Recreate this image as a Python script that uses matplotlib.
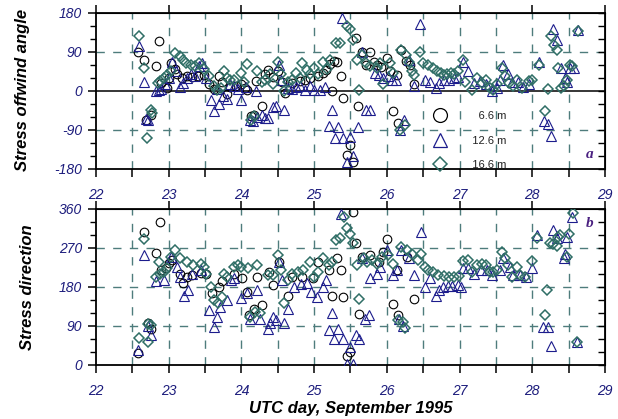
import matplotlib
matplotlib.use("Agg")
import matplotlib.pyplot as plt
from matplotlib.lines import Line2D

plt.rcParams['font.family'] = ['Liberation Sans', 'DejaVu Sans']
plt.rcParams['axes.unicode_minus'] = False

# ---- panel a: stress offwind angle (deg) ----
a_day_66 = [22.58, 22.66, 22.69, 22.75, 22.83, 22.87, 22.90, 22.97, 23.00, 23.03, 23.08, 23.12,
            23.18, 23.25, 23.32, 23.40, 23.48, 23.55, 23.62, 23.69, 23.74, 23.80, 23.85, 23.92,
            23.99, 24.05, 24.08, 24.13, 24.18, 24.20, 24.29, 24.33, 24.36, 24.43, 24.50, 24.56,
            24.60, 24.70, 24.80, 24.88, 24.95, 25.05, 25.12, 25.17, 25.22, 25.24, 25.27, 25.31,
            25.37, 25.40, 25.45, 25.50, 25.54, 25.58, 25.61, 25.66, 25.72, 25.77, 25.82, 25.87,
            25.92, 26.00, 26.04, 26.08, 26.14, 26.16, 26.20, 26.27, 26.32, 26.38]
a_val_66 = [90, 72, -66, -56, 57, 116, 18, 8, 30, 65, 50, 40,
            30, 34, 32, 34, 38, 15, 5, 34, 20, -8, 10, 11,
            15, 8, 3, -58, -55, 22, -35, 40, 48, 32, 45, 20,
            -4, 18, 22, 26, 30, 35, 42, 49, 62, 0, 70, 68,
            35, -16, -147, -124, -165, 122, -34, 89, 60, 91, 68, 61,
            55, 76, 45, -47, 38, -74, 95, 70, 61, 15]

a_day_126 = [22.585, 22.66, 22.69, 22.72, 22.82, 22.86, 22.90, 22.95, 23.00, 23.05, 23.10, 23.15,
             23.20, 23.25, 23.30, 23.36, 23.42, 23.46, 23.52, 23.58, 23.62, 23.66, 23.69, 23.75,
             23.80, 23.85, 23.90, 23.95, 23.99, 24.06, 24.12, 24.16, 24.20, 24.22, 24.28, 24.32,
             24.36, 24.43, 24.47, 24.52, 24.55, 24.59, 24.64, 24.70, 24.75, 24.80, 24.88, 24.95,
             25.00, 25.08, 25.15, 25.20, 25.24, 25.29, 25.33, 25.38, 25.40, 25.45, 25.50, 25.54,
             25.61, 25.66, 25.72, 25.77, 25.84, 25.89, 25.95, 26.02, 26.07, 26.12, 26.18, 26.24,
             26.30, 26.38, 26.46, 26.53, 26.60, 26.67, 26.72, 26.78, 26.85, 26.92, 26.98, 27.05,
             27.12, 27.20, 27.28, 27.36, 27.44, 27.51, 27.56, 27.60, 27.66, 27.72, 27.80, 27.87,
             27.95, 28.09, 28.16, 28.21, 28.26, 28.29, 28.34, 28.39, 28.45, 28.48, 28.52, 28.57, 28.63]
a_val_126 = [103, 20, -65, -68, 0, 2, 5, 15, 30, 68, 45, 10,
             18, 30, 40, 35, 57, 65, 30, -20, -47, 4, -31, -12,
             -18, 15, 12, 5, -20, 10, -66, -70, 0, -61, -55, -62,
             -62, -37, -35, 60, 26, -43, 8, 5, 10, 12, 3, 11,
             3, 3, 10, -81, -43, -108, -84, 168, -108, -165, -107, -149,
             -84, 91, -43, -43, 42, 38, 30, 35, 26, 26, -91, -66,
             72, 11, 155, 26, 20, 7, 18, 26, 26, 30, 32, 68,
             45, 18, 22, 15, 1, 8, 26, 61, 40, 20, 20, 10,
             15, 68, -70, -76, -105, 142, 118, 53, 30, 20, 53, 53, 140]

a_day_166 = [22.585, 22.66, 22.70, 22.75, 22.77, 22.85, 22.88, 22.93, 22.98, 23.03, 23.08, 23.15,
             23.20, 23.24, 23.30, 23.36, 23.42, 23.48, 23.55, 23.62, 23.67, 23.72, 23.76, 23.80,
             23.85, 23.90, 23.99, 24.04, 24.08, 24.13, 24.17, 24.22, 24.28, 24.33, 24.40, 24.44,
             24.50, 24.54, 24.59, 24.64, 24.70, 24.75, 24.80, 24.84, 24.90, 24.95, 25.00, 25.06,
             25.12, 25.18, 25.22, 25.30, 25.36, 25.45, 25.50, 25.54, 25.59, 25.62, 25.66, 25.72,
             25.77, 25.86, 25.91, 25.95, 26.04, 26.08, 26.18, 26.20, 26.25, 26.27, 26.30, 26.35,
             26.37, 26.46, 26.50, 26.56, 26.64, 26.69, 26.74, 26.79, 26.83, 26.88, 26.93, 26.98,
             27.05, 27.08, 27.17, 27.24, 27.31, 27.36, 27.42, 27.46, 27.51, 27.58, 27.63, 27.68,
             27.74, 27.79, 27.86, 27.95, 28.00, 28.09, 28.18, 28.21, 28.26, 28.30, 28.34, 28.36,
             28.40, 28.43, 28.48, 28.52, 28.55, 28.63]
a_val_166 = [128, 53, -108, -45, -50, 18, 24, 30, 38, 45, 88, 80,
             72, 65, 60, 57, 65, 50, 34, 11, 3, 8, 45, 30,
             26, 26, 41, 20, 63, -66, -58, 46, 20, 26, 40, 15,
             66, 40, 0, 20, 25, 41, 30, 65, 49, 40, 53, 40,
             68, 50, 71, 111, 111, 149, 143, 118, 72, 2, 84, 65,
             57, 53, 65, 15, 65, 42, -90, 95, -78, 84, 68, 45,
             38, 91, 65, 60, 53, 45, 42, 38, 40, 42, 40, 45,
             72, 20, 3, 30, 18, 26, 7, 3, 15, 53, 34, 18,
             11, 26, 7, 22, 26, 61, -47, 5, 126, 105, 95, 53,
             7, 12, 26, 61, 57, 138]

# ---- panel b: stress direction (deg) ----
b_day_66 = [22.58, 22.66, 22.71, 22.75, 22.82, 22.88, 22.90, 22.96, 23.00, 23.05, 23.16, 23.20,
            23.25, 23.32, 23.44, 23.51, 23.60, 23.69, 23.74, 23.90, 24.01, 24.08, 24.10, 24.17,
            24.21, 24.29, 24.38, 24.43, 24.52, 24.64, 24.70, 24.84, 24.98, 25.05, 25.20, 25.24,
            25.31, 25.37, 25.40, 25.45, 25.50, 25.54, 25.58, 25.62, 25.66, 25.77, 25.89, 25.95,
            26.00, 26.08, 26.14, 26.16, 26.28, 26.37]
b_val_66 = [28, 308, 97, 82, 259, 329, 219, 223, 236, 242, 211, 190,
            203, 207, 213, 211, 165, 180, 194, 211, 200, 169, 115, 130,
            202, 138, 215, 184, 238, 159, 203, 202, 200, 238, 219, 159,
            246, 220, 157, 21, 30, 354, 282, 117, 250, 254, 238, 261,
            290, 140, 220, 115, 250, 153]

b_day_126 = [22.58, 22.66, 22.72, 22.75, 22.82, 22.93, 23.03, 23.12, 23.16, 23.21, 23.26, 23.32,
             23.44, 23.55, 23.62, 23.66, 23.70, 23.80, 23.86, 23.90, 23.99, 24.08, 24.12, 24.22,
             24.26, 24.36, 24.40, 24.43, 24.47, 24.52, 24.56, 24.59, 24.64, 24.73, 24.82, 24.90,
             24.96, 25.04, 25.12, 25.17, 25.20, 25.24, 25.28, 25.33, 25.37, 25.40, 25.45, 25.50,
             25.54, 25.58, 25.62, 25.66, 25.70, 25.75, 25.77, 25.86, 25.91, 26.00, 26.09, 26.14,
             26.17, 26.20, 26.22, 26.30, 26.37, 26.47, 26.53, 26.60, 26.67, 26.72, 26.77, 26.84,
             26.90, 26.98, 27.02, 27.05, 27.12, 27.20, 27.30, 27.38, 27.45, 27.55, 27.60, 27.69,
             27.74, 27.83, 27.92, 28.00, 28.07, 28.15, 28.21, 28.26, 28.29, 28.34, 28.43, 28.45,
             28.48, 28.55, 28.61]
b_val_126 = [35, 254, 90, 70, 194, 196, 250, 227, 202, 159, 174, 210,
             219, 126, 88, 111, 134, 150, 196, 200, 155, 165, 105, 173,
             107, 84, 96, 111, 103, 238, 196, 97, 130, 180, 188, 190,
             169, 157, 180, 196, 80, 119, 61, 84, 348, 61, 3, 42,
             3, 70, 61, 246, 107, 115, 200, 211, 227, 265, 207, 219,
             107, 265, 89, 246, 207, 308, 180, 200, 159, 174, 180, 182,
             182, 184, 180, 223, 223, 211, 219, 219, 207, 219, 246, 227,
             207, 207, 203, 223, 300, 88, 88, 43, 311, 292, 246, 257,
             296, 342, 53]

b_day_166 = [22.585, 22.66, 22.71, 22.72, 22.76, 22.82, 22.86, 22.88, 22.93, 22.98, 23.03, 23.09,
             23.16, 23.25, 23.34, 23.44, 23.48, 23.51, 23.58, 23.62, 23.68, 23.73, 23.76, 23.80,
             23.90, 23.95, 23.99, 24.09, 24.12, 24.19, 24.22, 24.26, 24.36, 24.43, 24.50, 24.54,
             24.59, 24.64, 24.70, 24.78, 24.85, 24.94, 25.00, 25.06, 25.12, 25.20, 25.24, 25.30,
             25.36, 25.41, 25.45, 25.50, 25.54, 25.59, 25.62, 25.68, 25.73, 25.79, 25.86, 25.93,
             26.02, 26.09, 26.16, 26.20, 26.22, 26.25, 26.28, 26.34, 26.43, 26.47, 26.53, 26.57,
             26.64, 26.71, 26.78, 26.85, 26.92, 26.99, 27.05, 27.12, 27.17, 27.24, 27.31, 27.36,
             27.42, 27.46, 27.51, 27.58, 27.63, 27.67, 27.72, 27.79, 27.83, 27.90, 28.00, 28.07,
             28.18, 28.20, 28.25, 28.29, 28.34, 28.36, 28.38, 28.48, 28.51, 28.56, 28.61]
b_val_166 = [63, 290, 53, 95, 92, 202, 238, 211, 215, 223, 250, 265,
             246, 238, 230, 234, 227, 211, 180, 150, 142, 157, 211, 202,
             227, 230, 227, 223, 111, 122, 230, 119, 207, 207, 254, 219,
             142, 196, 211, 215, 219, 238, 203, 215, 246, 230, 238, 288,
             292, 342, 315, 302, 282, 230, 153, 246, 238, 242, 234, 250,
             254, 234, 103, 273, 99, 86, 265, 256, 242, 256, 227, 219,
             215, 207, 205, 202, 202, 205, 240, 242, 215, 230, 234, 230,
             215, 215, 219, 261, 246, 230, 203, 227, 207, 203, 240, 294,
             115, 173, 282, 279, 274, 296, 300, 250, 302, 350, 53]

heights = ['6.6 m', '12.6 m', '16.6 m']
day_ticks = [22, 23, 24, 25, 26, 27, 28, 29]

c_66 = 'black'
c_126 = '#1c1c8c'
c_166 = '#2f6e66'
navy = '#1c1c7c'
grid_c = '#4e7c7c'

fig = plt.figure(figsize=(6.18, 4.19), dpi=100)
ax1 = fig.add_axes([0.1553, 0.5967, 0.8236, 0.3723])
ax2 = fig.add_axes([0.1553, 0.1289, 0.8236, 0.3723])


def style_axis(ax, ymin, ymax, yticks, hlines):
    ax.set_xlim(22, 29)
    ax.set_ylim(ymin, ymax)
    for sp in ax.spines.values():
        sp.set_linewidth(1.3)
    # dashed grid every half day
    for d in [22.5 + 0.5 * i for i in range(13)]:
        ax.axvline(d, color=grid_c, ls=(0, (6, 6)), lw=1.0, zorder=0)
    for h in hlines:
        ax.axhline(h, color=grid_c, ls=(0, (6, 6)), lw=1.0, zorder=0)
    ax.set_xticks(day_ticks)
    ax.set_xticks([22.5 + i for i in range(7)], minor=True)
    ax.set_yticks(yticks)
    ax.set_yticks(range(ymin, ymax + 1, 30), minor=True)
    ax.tick_params(axis='both', which='major', direction='out', length=6, width=1.1,
                   labelsize=10, labelcolor=navy, top=False, right=False)
    ax.tick_params(axis='y', which='minor', direction='out', length=4, width=1.0, right=False)
    ax.tick_params(axis='x', which='minor', direction='out', length=6, width=1.1, top=False)
    ax.tick_params(axis='x', which='major', pad=8)
    ax.tick_params(axis='y', which='major', pad=4)
    for lab in ax.get_xticklabels() + ax.get_yticklabels():
        lab.set_fontstyle('italic')
    top = ax.secondary_xaxis('top')
    top.set_xticks(day_ticks, labels=[])
    top.tick_params(direction='out', length=6, width=1.1)
    right = ax.secondary_yaxis('right')
    right.set_yticks(yticks, labels=[])
    right.set_yticks(range(ymin, ymax + 1, 30), minor=True)
    right.tick_params(which='both', direction='in', length=5, width=1.0)


def draw(ax, d66, v66, d126, v126, d166, v166):
    ax.plot(d66, v66, 'o', ms=6.2, mfc='none', mec=c_66, mew=0.8, zorder=3)
    ax.plot(d126, v126, '^', ms=6.8, mfc='none', mec=c_126, mew=0.8, zorder=3)
    ax.plot(d166, v166, 'D', ms=5.2, mfc='none', mec=c_166, mew=1.1, zorder=3)


style_axis(ax1, -180, 180, [-180, -90, 0, 90, 180], [90, -90])
ax1.axhline(0, color='black', lw=1.1, zorder=1)
draw(ax1, a_day_66, a_val_66, a_day_126, a_val_126, a_day_166, a_val_166)

style_axis(ax2, 0, 360, [0, 90, 180, 270, 360], [90, 180, 270])
draw(ax2, b_day_66, b_val_66, b_day_126, b_val_126, b_day_166, b_val_166)

handles = [
    Line2D([], [], ls='none', marker='o', ms=10, mfc='none', mec=c_66, mew=0.9),
    Line2D([], [], ls='none', marker='^', ms=10.5, mfc='none', mec=c_126, mew=0.9),
    Line2D([], [], ls='none', marker='D', ms=7, mfc='none', mec=c_166, mew=1.1),
]
labels = ['    ' + heights[0], '  ' + heights[1], '  ' + heights[2]]
leg = ax1.legend(handles, labels, loc='lower left', bbox_to_anchor=(0.645, -0.035),
                 frameon=False, fontsize=8, labelspacing=1.3, handletextpad=1.4,
                 borderaxespad=0)
for t in leg.get_texts():
    t.set_color('#222222')

ax1.text(0.969, 0.09, 'a', transform=ax1.transAxes, ha='center', va='center',
         fontsize=11, fontweight='bold', fontstyle='italic', color='#4a2080',
         family='Liberation Serif')
ax2.text(0.969, 0.91, 'b', transform=ax2.transAxes, ha='center', va='center',
         fontsize=11, fontweight='bold', fontstyle='italic', color='#4a2080',
         family='Liberation Serif')

fig.text(0.037, 0.785, 'Stress offwind angle', rotation=90, ha='center', va='center',
         fontsize=12, fontweight='bold', fontstyle='italic')
fig.text(0.045, 0.315, 'Stress direction', rotation=90, ha='center', va='center',
         fontsize=12, fontweight='bold', fontstyle='italic')
fig.text(0.567, 0.026, 'UTC day, September 1995', ha='center', va='center',
         fontsize=12, fontweight='bold', fontstyle='italic')

fig.savefig('out.png', dpi=100)
